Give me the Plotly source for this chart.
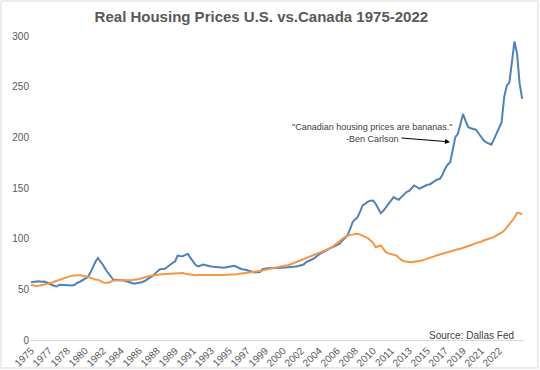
import plotly.graph_objects as go

# Quarterly data, 1975Q1 .. 2022Q4 (index 0..191)
canada = [
    57, 57.5, 58, 58, 57.5, 57.7, 57, 55.5, 54.5, 53.5, 52.8, 54.5,
    54.3, 54, 54, 53.8, 53.8, 54.5, 56.5, 57.5, 59, 60.5, 62, 66,
    72, 77, 81, 78, 74, 69.5, 66, 62, 59.4, 59.5, 59.5, 59.4,
    58.8, 58, 57.5, 56.5, 55.5, 55.8, 56.3, 57, 58, 59.4, 61, 62.7,
    65, 67.5, 69.6, 70, 70.3, 72, 74.2, 76, 77.5, 83.4, 83, 82.7,
    84, 85, 81, 76.8, 74, 72.6, 73.5, 74.5, 73.8, 73, 72.6, 72.3,
    72, 71.9, 71.5, 71.3, 71.8, 72, 72.8, 73.2, 72, 70.5, 69.9, 69.5,
    68.8, 68.6, 67.8, 66.6, 66.8, 67, 70, 70.6, 70.8, 70.9, 70.9, 71,
    71.2, 71.3, 71.5, 71.6, 71.8, 71.9, 72, 72.5, 73, 73.8, 74.5, 77,
    77.8, 79.2, 80.5, 83, 84.5, 86, 87.5, 88.8, 90, 91.5, 92.5, 94,
    95, 98, 101, 103, 109, 116, 119, 121.2, 127, 133, 134.5, 136.5,
    137.5, 137.7, 134.5, 130, 125.2, 127.5, 131, 134, 138.5, 141, 139.5, 138.4,
    141, 144, 145.9, 147, 149.5, 152.5, 151, 149.3, 150.5, 152, 153.2, 153.5,
    155, 157, 158.4, 159, 163, 169, 173, 175.5, 188, 200.2, 203.5, 214,
    223, 216, 210, 209, 208.5, 207.5, 204, 200, 197, 195, 193.5, 192.7,
    198, 203.5, 208, 215, 240, 251, 254, 272, 294.7, 282.5, 253, 238,
]
us = [
    54.5, 54, 53, 53.5, 54, 54.5, 55, 55.5, 56.5, 57.5, 58.5, 59.5,
    60.5, 61.4, 62, 62.8, 63.5, 64, 64, 63.8, 63.7, 63, 62.3, 61.4,
    60.5, 59.7, 59.5, 58, 56.8, 56.5, 56.5, 57.5, 58.7, 58.7, 58.7, 58.6,
    58.7, 58.8, 59, 59.3, 59.5, 59.7, 60.2, 61, 62, 62.5, 63.2, 63.7,
    64, 64.3, 64.6, 64.8, 65, 65, 65.1, 65.2, 65.3, 65.6, 66.3, 66,
    65.3, 65, 64.5, 64, 64, 64.2, 64.4, 64.4, 64.2, 64.1, 64, 64,
    64, 64, 64.1, 64.2, 64.3, 64.3, 64.4, 64.4, 64.8, 65.3, 65.8, 66,
    66.3, 66.6, 67, 67.3, 67.5, 67.9, 68.5, 69.2, 69.8, 70.3, 70.9, 71.5,
    72, 72.6, 73.2, 73.5, 73.8, 74.8, 75.8, 76.8, 77.8, 78.5, 79.7, 80.8,
    82, 83, 84.1, 85, 86, 87, 88, 89, 90, 91.5, 93.5, 95.5,
    98, 100, 101.5, 103, 103.8, 104, 104.5, 104.8, 104, 103, 101.5, 100.5,
    98.2, 96, 91.6, 92.5, 93.3, 90, 86.7, 85.5, 84.4, 84, 83.4, 81,
    79, 77.8, 77.3, 77, 76.8, 77.2, 77.5, 77.8, 78.5, 79.3, 80, 81.1,
    82, 82.8, 83.7, 84.5, 85.2, 85.7, 86.5, 87.2, 88, 88.8, 89.5, 90,
    90.8, 91.5, 92.5, 93.5, 94.5, 95.6, 96.2, 97, 98.2, 99, 99.8, 100.5,
    101.5, 103.2, 104.5, 106, 108, 111, 114.5, 118, 120.6, 125.6, 125.2, 123.9,
]
tick_labels = ["1975", "1977", "1978", "1980", "1982", "1984", "1986", "1988", "1989",
               "1991", "1993", "1995", "1997", "1999", "2000", "2002", "2004", "2006",
               "2008", "2010", "2011", "2013", "2015", "2017", "2019", "2021", "2022"]

idx = list(range(len(canada)))
tick_pos = [i * 7 for i in range(len(tick_labels))]

FONT = "Liberation Sans, Arial, sans-serif"
GRAY = "#595959"

fig = go.Figure()
fig.add_trace(go.Scatter(x=idx, y=canada, mode="lines", name="Canada",
                         line=dict(color="#4F81BD", width=2)))
fig.add_trace(go.Scatter(x=idx, y=us, mode="lines", name="U.S.",
                         line=dict(color="#F79646", width=2)))

fig.update_layout(
    width=540, height=370,
    margin=dict(l=30, r=16, t=36, b=30, autoexpand=False),
    paper_bgcolor="white", plot_bgcolor="white",
    showlegend=False,
    font=dict(family=FONT, size=10, color=GRAY),
    title=dict(text="<b>Real Housing Prices U.S. vs.Canada 1975-2022</b>",
               x=0.484, xanchor="center", y=0.955, yanchor="middle",
               font=dict(family=FONT, size=15, color=GRAY)),
)
fig.update_xaxes(range=[-0.4, 191.7], tickmode="array", tickvals=tick_pos,
                 ticktext=tick_labels, tickangle=-45, showgrid=False,
                 zeroline=False, showline=True, linecolor="#d9d9d9", linewidth=1,
                 ticks="", automargin=False, tickfont=dict(size=10, color=GRAY))
fig.update_yaxes(range=[0, 300], tickmode="array", tickvals=[0, 50, 100, 150, 200, 250, 300],
                 showgrid=False, zeroline=False, showline=False, ticks="",
                 automargin=False, tickfont=dict(size=10, color=GRAY))

# Quote annotation
fig.add_annotation(x=132.6, y=204.5, xref="x", yref="y",
                   text="\"Canadian housing prices are bananas.\"<br>-Ben Carlson",
                   showarrow=False, align="center",
                   font=dict(family=FONT, size=9, color="#404040"))
# Arrow
fig.add_annotation(x=162.9, y=195.5, xref="x", yref="y", text="",
                   showarrow=True, ax=-50, ay=-4, arrowhead=2, arrowsize=1,
                   arrowwidth=1, arrowcolor="#000000")
# Source
fig.add_annotation(x=0.984, y=0.016, xref="paper", yref="paper",
                   text="Source: Dallas Fed", showarrow=False,
                   xanchor="right", yanchor="middle",
                   font=dict(family=FONT, size=10, color="#404040"))
# Outer border
fig.add_shape(type="rect", xref="paper", yref="paper",
              x0=-0.0587, x1=1.0283, y0=-0.0921, y1=1.1151,
              line=dict(color="#d9d9d9", width=1), fillcolor="rgba(0,0,0,0)",
              layer="below")

fig.write_html("out.html", config={"displayModeBar": False},
               post_script="document.body.style.margin='0';document.body.style.overflow='hidden';")
